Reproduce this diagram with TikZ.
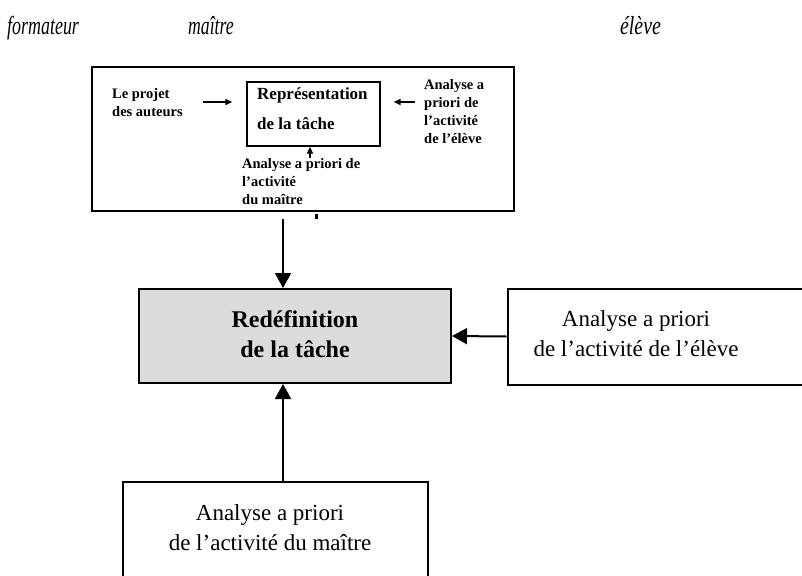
\documentclass[tikz,border=0pt]{standalone}
\usepackage{fontspec}
\setmainfont{Liberation Serif}
\usetikzlibrary{arrows.meta}

\tikzset{
  head/.style={font=\fontsize{26}{30}\selectfont\itshape, anchor=base west, inner sep=0pt},
  frame/.style={draw, line width=1.3pt, inner sep=0pt},
  smalltxt/.style={font=\fontsize{14.5}{18}\selectfont\bfseries, align=left, anchor=north west, inner sep=0pt},
  bigbox/.style={draw, line width=2pt, inner sep=0pt},
  bigtxt/.style={font=\fontsize{23}{30}\selectfont, align=center, inner sep=0pt},
  smallarr/.style={line width=1.5pt, -{Triangle[width=6pt,length=7pt]}},
  bigarr/.style={line width=2pt, -{Triangle[width=16pt,length=15pt]}}
}

\begin{document}
\begin{tikzpicture}[x=1pt,y=-1pt]
\useasboundingbox (0,0) rectangle (802,575);

% column headings
\node[head] (hf) at (7,35) {\scalebox{0.69}[1]{formateur}};
\node[head] (hm) at (188,35) {\scalebox{0.68}[1]{maître}};
\node[head] (he) at (620,35) {\scalebox{0.76}[1]{élève}};

% upper frame and the representation of the task
\node[frame, minimum width=422pt, minimum height=144pt] (top) at (303,139) {};
\node[frame, minimum width=133pt, minimum height=64pt] (rep) at (313.5,114) {};
\node[font=\fontsize{17}{30}\selectfont\bfseries, align=left, anchor=north west, inner sep=0pt]
  (reptxt) at (257,87) {Représentation\\de la tâche};

\node[smalltxt] (proj) at (112,88) {Le projet\\des auteurs};
\node[smalltxt] (aeleve) at (424,79) {Analyse a\\priori de\\l’activité\\de l’élève};
\node[smalltxt] (amaitre) at (242,158) {Analyse a priori de\\l’activité\\du maître};

\coordinate (ra) at ([yshift=12pt]rep.west);
\coordinate (rb) at ([yshift=12pt]rep.east);
\draw[smallarr] ([xshift=20pt]proj.east |- ra) -- ([xshift=-14pt]ra);
\draw[smallarr] ([xshift=-9pt]aeleve.west |- rb) -- ([xshift=13pt]rb);
\draw[smallarr] ([xshift=-3.5pt]amaitre.north -| rep.south) -- ([xshift=-3.5pt]rep.south);

\fill (314.5,213.5) rectangle (317.5,218.5);

% lower part
\node[bigbox, fill={rgb,255:red,220;green,220;blue,220}, minimum width=312pt, minimum height=94pt]
  (redef) at (295,336) {};
\node[bigtxt, font=\fontsize{24}{30}\selectfont\bfseries] (redeftxt) at (295,334) {Redéfinition\\de la tâche};

\node[bigbox, minimum width=305pt, minimum height=96pt] (rbox) at (660,336.5) {};
\node[bigtxt] (rtxt) at (636,334) {Analyse a priori\\de l’activité de l’élève};

\node[bigbox, minimum width=305pt, minimum height=120pt] (bbox) at (275,542) {};
\node[bigtxt] (btxt) at (270,528) {Analyse a priori\\de l’activité du maître};

\coordinate (ta) at (283,219);
\draw[bigarr] (ta) -- (ta |- redef.north);
\draw[bigarr] (bbox.north -| ta) -- (ta |- redef.south);
\draw[bigarr] (rbox.west) -- (redef.east);
\end{tikzpicture}
\end{document}
